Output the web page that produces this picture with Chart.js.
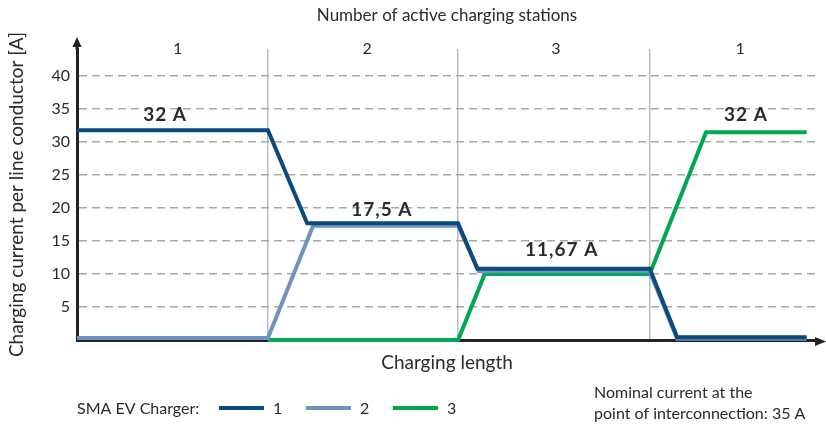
<!DOCTYPE html>
<html lang="en">
  <head>
    <meta charset="UTF-8" />
    <title>Charging current per line conductor</title>
    <script src="https://cdn.jsdelivr.net/npm/chart.js"></script>
    <style>
      body {
        margin: 0;
        background: #fff;
        font-family: Lato, Arial, sans-serif;
      }
      #wrap {
        width: 826px;
        height: 425px;
      }
    </style>
  </head>
  <body>
    <div id="wrap"><canvas id="myChart"></canvas></div>
    <script>
      // charger 1 (dark blue)
      const timeS1 = [0, 25.8, 31.1, 51.5, 54.1, 77.4, 81.1, 98.6];
      const ampS1 = [31.8, 31.8, 17.7, 17.7, 10.8, 10.8, 0.4, 0.4];
      // charger 2 (light blue)
      const timeS2 = [0, 25.8, 31.9, 51.5, 54.3, 77.4, 81.1, 98.6];
      const ampS2 = [0.3, 0.3, 17.3, 17.3, 10.4, 10.4, 0.2, 0.2];
      // charger 3 (green)
      const timeS3 = [25.8, 51.5, 55.1, 77.4, 85.0, 98.6];
      const ampS3 = [0, 0, 10, 10, 31.5, 31.5];

      // phases: boundaries and number of active stations
      const phaseBounds = [0, 25.8, 51.5, 77.4, 100];
      const phaseStations = ["1", "2", "3", "1"];
      const stationLabelAt = [13.6, 39.2, 64.7, 89.6];
      const yTicks = [5, 10, 15, 20, 25, 30, 35, 40];

      // current labels over the flat parts
      const noteText = ["32 A", "17,5 A", "11,67 A", "32 A"];
      const noteTime = [11.9, 41.2, 65.5, 90.4];
      const noteAmp = [32, 17.7, 11.67, 32];

      const chargerNames = ["1", "2", "3"];
      const chargerColors = ["#0b4a7d", "#6f93c0", "#00a651"];

      const textColor = "#2b2b2b";
      const fontFamily = "Lato, Arial, sans-serif";

      function toPoints(xs, ys) {
        return xs.map((x, i) => ({ x: x, y: ys[i] }));
      }

      // arrows, value labels, legend and note
      const extras = {
        id: "extras",
        beforeDatasetsDraw(chart) {
          const { ctx, chartArea } = chart;
          ctx.save();
          ctx.strokeStyle = "#222";
          ctx.fillStyle = "#222";
          ctx.lineWidth = 3;
          ctx.beginPath();
          ctx.moveTo(chartArea.left, chartArea.top + 1);
          ctx.lineTo(chartArea.left, 44);
          ctx.moveTo(chartArea.right - 1, chartArea.bottom + 1.5);
          ctx.lineTo(820, chartArea.bottom + 1.5);
          ctx.stroke();
          ctx.beginPath();
          ctx.moveTo(chartArea.left, 37);
          ctx.lineTo(chartArea.left - 4.5, 47);
          ctx.lineTo(chartArea.left + 4.5, 47);
          ctx.closePath();
          ctx.fill();
          ctx.beginPath();
          ctx.moveTo(826, chartArea.bottom + 1.5);
          ctx.lineTo(815, chartArea.bottom - 3);
          ctx.lineTo(815, chartArea.bottom + 6);
          ctx.closePath();
          ctx.fill();
          ctx.restore();
        },
        afterDraw(chart) {
          const { ctx } = chart;
          const xs = chart.scales.x;
          const ys = chart.scales.y;
          ctx.save();
          ctx.fillStyle = textColor;
          ctx.textAlign = "center";
          ctx.textBaseline = "bottom";
          ctx.font = "bold 19px " + fontFamily;
          ctx.letterSpacing = "1px";
          noteText.forEach((t, i) => {
            ctx.fillText(
              t,
              xs.getPixelForValue(noteTime[i]),
              ys.getPixelForValue(noteAmp[i]) - 4
            );
          });
          ctx.letterSpacing = "0px";

          // legend
          ctx.font = "16px " + fontFamily;
          ctx.textAlign = "left";
          ctx.textBaseline = "middle";
          ctx.fillText("SMA EV Charger:", 77, 409);
          chargerNames.forEach((n, i) => {
            const x0 = 219 + i * 87;
            ctx.strokeStyle = chargerColors[i];
            ctx.lineWidth = 4;
            ctx.beginPath();
            ctx.moveTo(x0, 408);
            ctx.lineTo(x0 + 45, 408);
            ctx.stroke();
            ctx.fillText(n, x0 + 54, 409);
          });

          // note
          ctx.font = "16px " + fontFamily;
          ctx.fillText("Nominal current at the", 594, 393);
          ctx.fillText("point of interconnection: 35 A", 594, 414);
          ctx.restore();
        },
      };

      const ctx = document.getElementById("myChart").getContext("2d");
      const myChart = new Chart(ctx, {
        type: "line",
        data: {
          datasets: [
            {
              label: chargerNames[0],
              data: toPoints(timeS1, ampS1),
              borderColor: chargerColors[0],
              borderWidth: 4,
              order: 1,
            },
            {
              label: chargerNames[1],
              data: toPoints(timeS2, ampS2),
              borderColor: chargerColors[1],
              borderWidth: 4,
              order: 2,
            },
            {
              label: chargerNames[2],
              data: toPoints(timeS3, ampS3),
              borderColor: chargerColors[2],
              borderWidth: 4,
              order: 3,
            },
          ],
        },
        options: {
          responsive: true,
          maintainAspectRatio: false,
          animation: false,
          layout: { padding: { left: 0, right: 9, top: 0, bottom: 0 } },
          elements: {
            point: { radius: 0 },
            line: { tension: 0, borderJoinStyle: "miter", borderCapStyle: "butt" },
          },
          datasets: { line: { clip: false } },
          plugins: {
            legend: { display: false },
            tooltip: { enabled: false },
          },
          scales: {
            x: {
              type: "linear",
              position: "bottom",
              min: 0,
              max: 100,
              afterBuildTicks(scale) {
                scale.ticks = phaseBounds.slice(1, 4).map((v) => ({ value: v }));
              },
              afterFit(scale) {
                scale.height = 85;
              },
              ticks: { display: false },
              grid: { color: "#bdbdbd", lineWidth: 1.5, drawTicks: false },
              border: { display: true, color: "#222", width: 3 },
              title: {
                display: true,
                text: "Charging length",
                color: textColor,
                font: { family: fontFamily, size: 19 },
                padding: { top: 0, bottom: 51 },
              },
            },
            x2: {
              type: "linear",
              position: "top",
              min: 0,
              max: 100,
              afterBuildTicks(scale) {
                scale.ticks = stationLabelAt.map((v) => ({ value: v }));
              },
              afterFit(scale) {
                scale.height = 49;
              },
              ticks: {
                color: textColor,
                font: { family: fontFamily, size: 16 },
                mirror: true,
                padding: -10,
                maxRotation: 0,
                autoSkip: false,
                callback: (v, i) => phaseStations[i],
              },
              grid: { display: false, drawTicks: false },
              border: { display: false },
              title: {
                display: true,
                text: "Number of active charging stations",
                color: textColor,
                font: { family: fontFamily, size: 17 },
                padding: { top: 5, bottom: 0 },
              },
            },
            y: {
              min: 0,
              max: 44.1,
              afterBuildTicks(scale) {
                scale.ticks = yTicks.map((v) => ({ value: v }));
              },
              afterFit(scale) {
                scale.width = 77;
              },
              ticks: {
                color: textColor,
                font: { family: fontFamily, size: 16 },
                padding: 7,
              },
              grid: { color: "#a8a8a8", lineWidth: 1.5, drawTicks: false },
              border: { display: true, color: "#222", width: 3, dash: [8, 5] },
              title: {
                display: true,
                text: "Charging current per line conductor [A]",
                color: textColor,
                font: { family: fontFamily, size: 19 },
                padding: { top: 5, bottom: 0 },
              },
            },
          },
        },
        plugins: [extras],
      });
    </script>
  </body>
</html>
